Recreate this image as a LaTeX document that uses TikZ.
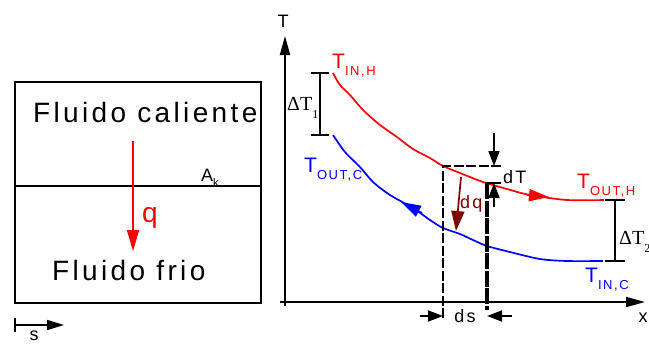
\documentclass[tikz,border=0pt]{standalone}
\usepackage{fontspec}
\setmainfont{Liberation Sans}
\newfontfamily\spaced[LetterSpace=12]{Liberation Sans}
\newfontfamily\timesfam{Liberation Serif}
\usetikzlibrary{arrows.meta}
\definecolor{darkred}{RGB}{128,0,0}
\newcommand{\Tsub}[2]{#1\raisebox{-7pt}{\fontsize{13}{13}\selectfont #2}}
\begin{document}
\begin{tikzpicture}[x=1pt, y=-1pt,
    wall/.style={line width=1.5pt},
    axis/.style={line width=1.8pt, -{Triangle[length=19pt,width=10pt]}},
    hot/.style={red, line width=1.7pt},
    cold/.style={blue, line width=1.7pt},
    bar/.style={line width=1.5pt},
    guide/.style={line width=2.4pt, dash pattern=on 10pt off 2.5pt},
    push/.style={line width=1.5pt, -{Triangle[length=15pt,width=11pt]}},
    big/.style={inner sep=0, font=\spaced\fontsize{28}{28}\selectfont},
    lbl/.style={inner sep=0, font=\spaced\fontsize{18}{18}\selectfont},
    tlbl/.style={inner sep=0, font=\spaced\fontsize{21}{21}\selectfont},
    dlbl/.style={inner sep=0, font=\timesfam\fontsize{20}{20}\selectfont}]
        \useasboundingbox (0,0) rectangle (649,349);
        \coordinate (nw) at (15,82);
        \coordinate (se) at (261,303);
        \coordinate (ml) at (15,186);
        \coordinate (mr) at (261,186);
        \coordinate (qtop) at (133,141);
        \coordinate (qend) at (133,251);
        \coordinate (s0) at (15,325);
        \coordinate (s1) at (64,325);
        \draw[wall] (nw) rectangle (se);
        \draw[wall] (ml) -- (mr);
        \draw[red, line width=1.7pt, -{Triangle[length=21pt,width=12pt]}] (qtop) -- (qend);
        \draw[bar, -{Triangle[length=17pt,width=10pt]}] (s0) -- (s1);
        \draw[bar] ([yshift=-7pt]s0) -- ([yshift=7pt]s0);
        \node[big, anchor=base west] (hot) at (33,122) {Fluido caliente};
        \node[big, anchor=base west] (cold) at (52,280) {Fluido frio};
        \node[big, red, anchor=base west] (q) at (142,222) {q};
        \node[lbl, anchor=base west] (ak) at (201,181) {A\raisebox{-5pt}{\fontsize{11}{11}\selectfont k}};
        \node[lbl, anchor=north] (s) at (34,331) {s};

        \coordinate (tbot) at (285,306);
        \coordinate (ttop) at (285,36);
        \coordinate (xl) at (280,302);
        \coordinate (xr) at (645,302);
        \draw[axis] (tbot) -- (ttop);
        \draw[axis] (xl) -- (xr);
        \node[lbl, anchor=base] (tl) at (283,27) {T};
        \node[lbl, anchor=base] (xlab) at (643,322) {x};

        \draw[hot] plot[smooth, tension=0.5] coordinates {(333,73) (340,85) (350,95) (363,110) (380,125) (397,137) (413,149) (430,158) (443,166) (460,173) (483,182) (507,189) (530,195) (567,200) (604,200)};
        \draw[cold] plot[smooth, tension=0.5] coordinates {(333,135) (345,152) (360,167) (373,182) (390,195) (413,208) (430,220) (443,228) (460,234) (473,240) (487,246) (510,252) (540,259) (567,261) (603,261)};
        \coordinate (ra) at (527,195);
        \coordinate (rb) at (549,197);
        \coordinate (ba) at (422,213);
        \coordinate (bb) at (401,202);
        \draw[hot, -{Triangle[length=20pt,width=12pt]}] (ra) -- (rb);
        \draw[cold, -{Triangle[length=20pt,width=12pt]}] (ba) -- (bb);
        \node[tlbl, red, anchor=base west] (tinh) at (332,68) {\Tsub{T}{IN,H}};
        \node[tlbl, blue, anchor=base west] (toutc) at (304,172) {\Tsub{T}{OUT,C}};
        \node[tlbl, red, anchor=base west] (touth) at (577,188) {\Tsub{T}{OUT,H}};
        \node[tlbl, blue, anchor=base west] (tinc) at (585,282) {\Tsub{T}{IN,C}};

        \coordinate (d1a) at (320,73);
        \coordinate (d1b) at (320,135);
        \coordinate (d2a) at (615,200);
        \coordinate (d2b) at (615,261);
        \draw[bar] (d1a) -- (d1b);
        \draw[bar] ([xshift=-9pt]d1a) -- ([xshift=9pt]d1a);
        \draw[bar] ([xshift=-9pt]d1b) -- ([xshift=9pt]d1b);
        \draw[bar] (d2a) -- (d2b);
        \draw[bar] ([xshift=-10pt]d2a) -- ([xshift=10pt]d2a);
        \draw[bar] ([xshift=-10pt]d2b) -- ([xshift=10pt]d2b);
        \node[dlbl, anchor=base west] (dt1) at (287,110) {ΔT\raisebox{-8pt}{\fontsize{12}{12}\selectfont 1}};
        \node[dlbl, anchor=base west] (dt2) at (619,244) {ΔT\raisebox{-8pt}{\fontsize{12}{12}\selectfont 2}};

        \coordinate (boxbl) at (443,318);
        \coordinate (boxtr) at (501,166);
        \coordinate (rg1) at (487,183);
        \coordinate (rg2) at (487,310);
        \coordinate (dtl) at (485,183);
        \coordinate (dtr) at (501,183);
        \coordinate (ua) at (494,133);
        \coordinate (ub) at (494,166);
        \coordinate (la) at (494,207);
        \coordinate (lb) at (494,183);
        \draw[guide] (boxbl) |- (boxtr);
        \draw[line width=3.2pt, dash pattern=on 16pt off 1.5pt] (rg1) -- (rg2);
        \draw[bar] (dtl) -- (dtr);
        \draw[push] (ua) -- (ub);
        \draw[push] (la) -- (lb);
        \node[lbl, anchor=base west] (dt) at (503,183) {dT};

        \coordinate (dsl) at (420,316);
        \coordinate (dsla) at (443,316);
        \coordinate (dsr) at (512,316);
        \coordinate (dsra) at (487,316);
        \draw[push] (dsl) -- (dsla);
        \draw[push] (dsr) -- (dsra);
        \node[lbl, anchor=base] (ds) at (465,322) {ds};

        \coordinate (dqa) at (461,177);
        \coordinate (dqb) at (456,231);
        \draw[darkred, line width=1.7pt, -{Triangle[length=20pt,width=13pt]}] (dqa) -- (dqb);
        \node[lbl, darkred, anchor=base west] (dq) at (460,208) {dq};
    \end{tikzpicture}
\end{document}
